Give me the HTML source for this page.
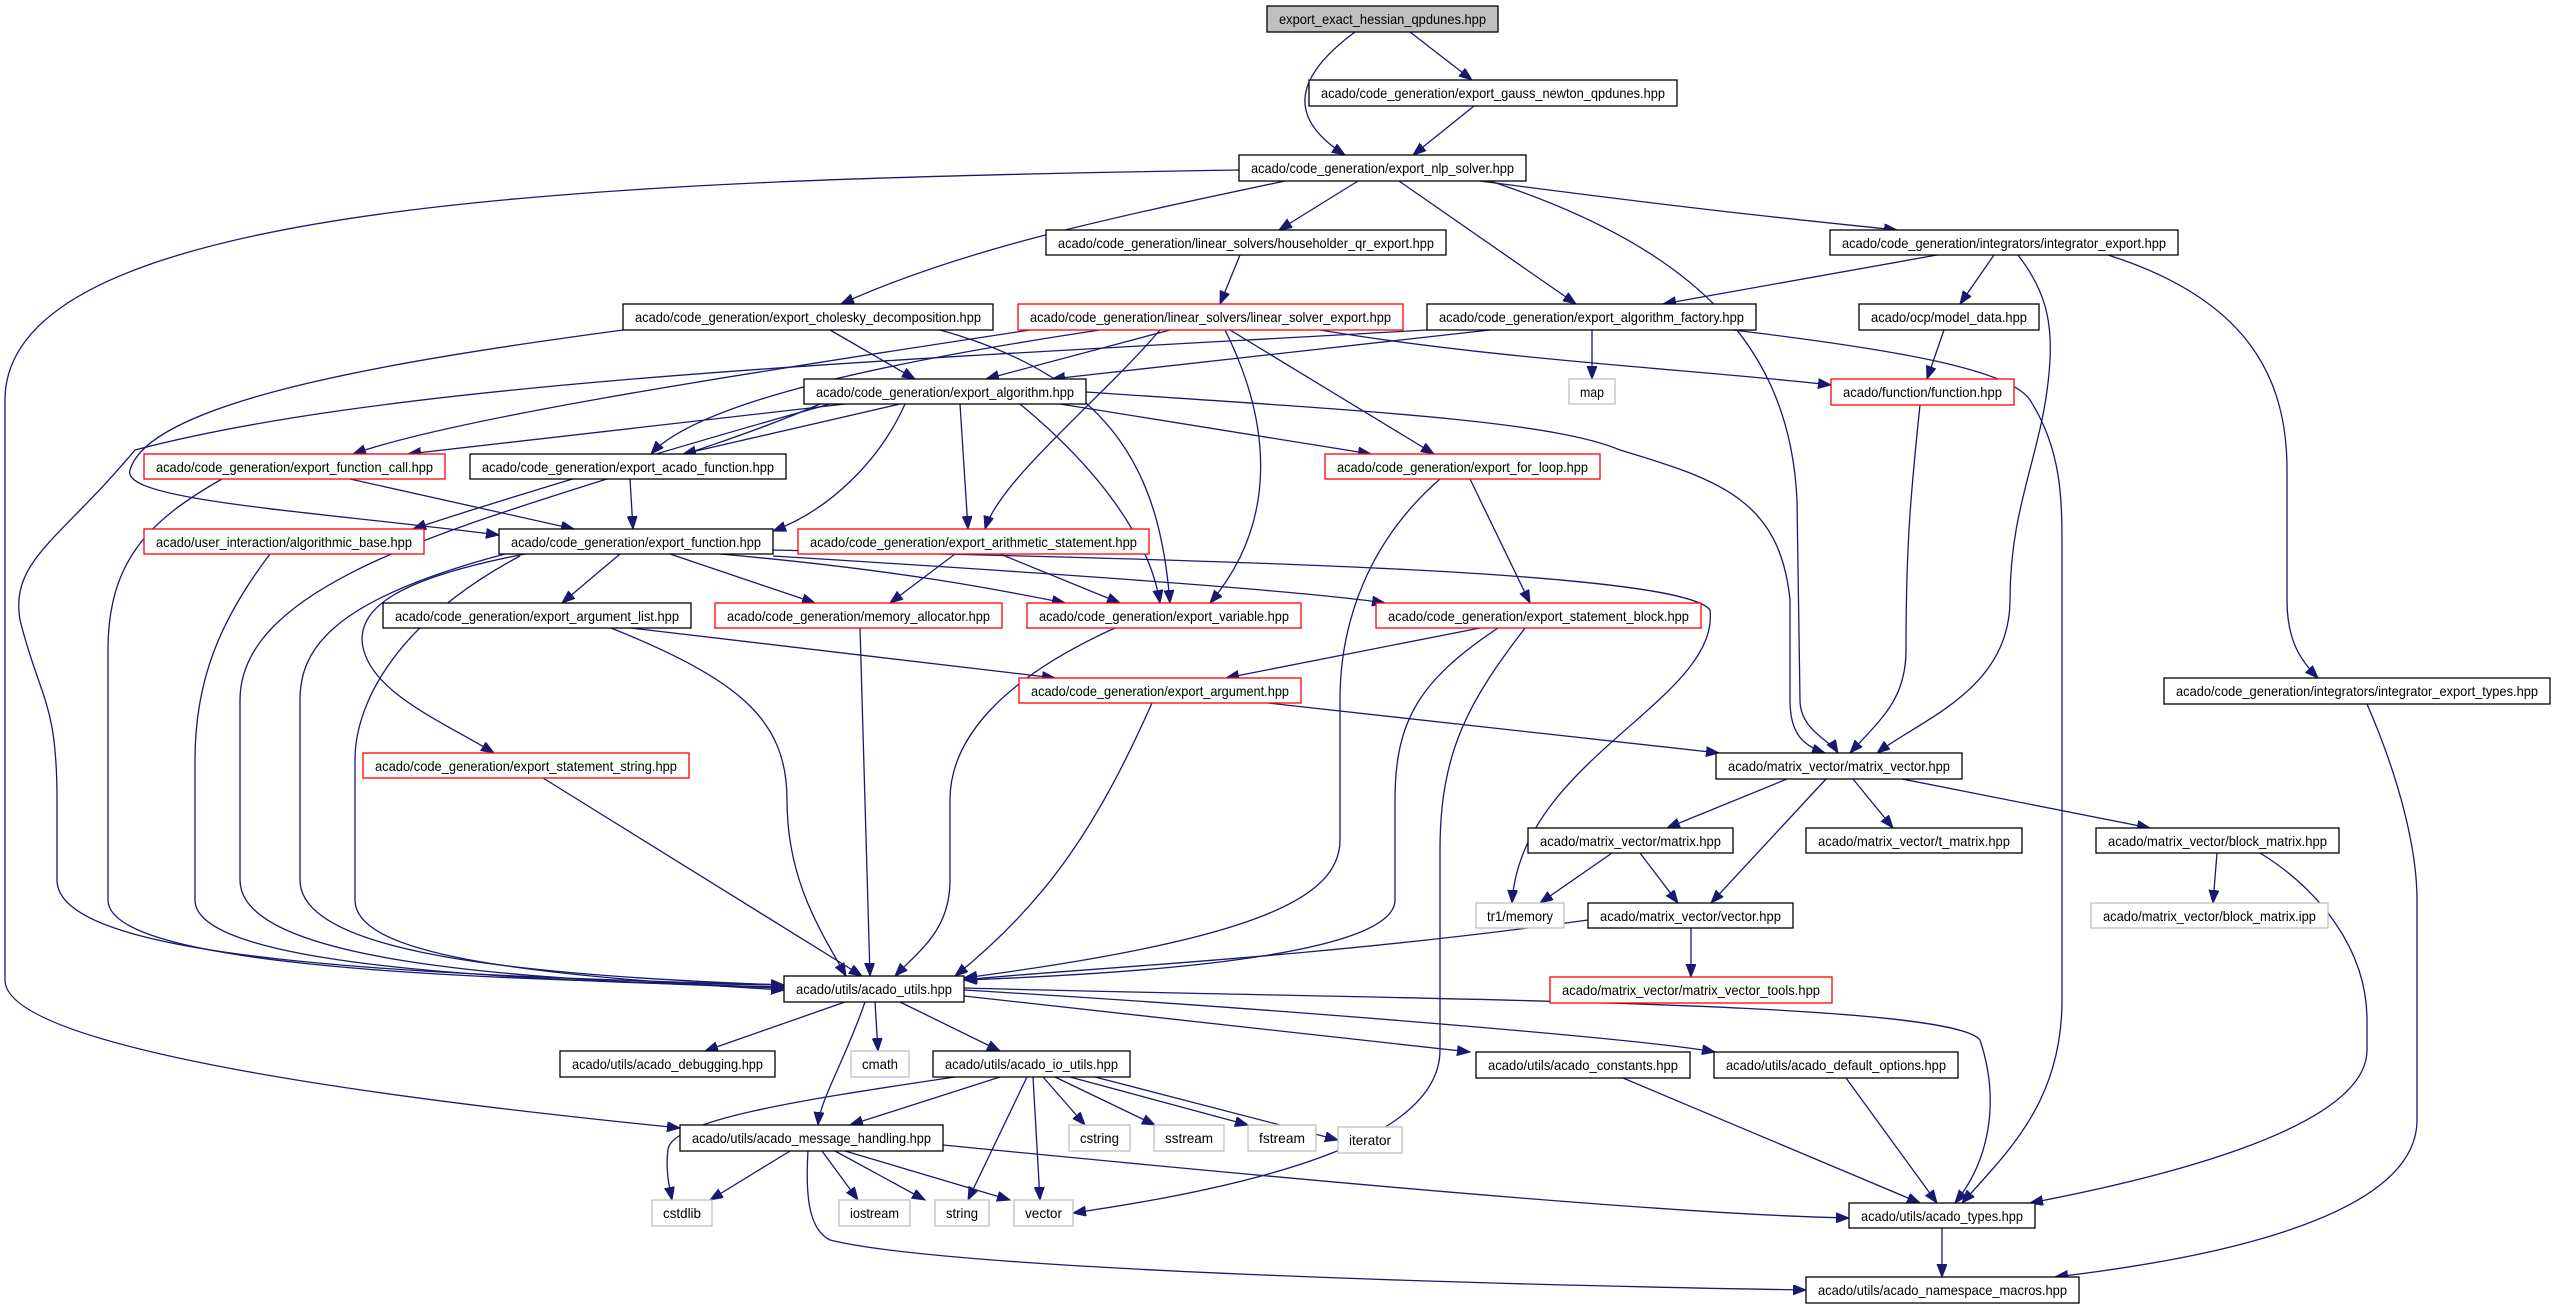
<!DOCTYPE html>
<html><head><meta charset="utf-8"><style>
html,body{margin:0;padding:0;background:#fff;}
svg{display:block;}
text{font-family:"Liberation Sans",sans-serif;font-size:14px;fill:#000;}
.n{fill:#fff;stroke:#000;stroke-width:1.3;}
.r{fill:#fff;stroke:#ff0000;stroke-width:1.3;}
.g{fill:#fff;stroke:#bfbfbf;stroke-width:1.3;}
.e path{fill:none;stroke:#191970;stroke-width:1.3;marker-end:url(#a);}
</style></head><body>
<svg width="2559" height="1307" viewBox="0 0 2559 1307" xmlns="http://www.w3.org/2000/svg">
<defs><marker id="a" markerUnits="userSpaceOnUse" markerWidth="14" markerHeight="12" refX="13" refY="5" orient="auto"><path d="M0,0 L13,5 L0,10 z" fill="#191970" stroke="#191970"/></marker></defs>
<g class="e">
<path d="M1410,32 L1472,80"/>
<path d="M1355,32 C1290,80 1290,120 1345,155"/>
<path d="M1474,106 L1413,155"/>
<path d="M1358,181 L1279,230"/>
<path d="M1285,181 C1100,220 960,250 841,304"/>
<path d="M1399,181 L1576,304"/>
<path d="M1480,181 C1700,210 1800,220 1897,230"/>
<path d="M1490,181 C1700,250 1790,350 1797,500 L1800,700 C1800,730 1830,740 1838,753"/>
<path d="M1239,170 C600,180 5,200 5,400 L5,980 C5,1050 400,1100 680,1128"/>
<path d="M1427,330 C900,360 400,380 135,450 C60,540 10,560 20,620 C40,700 57,700 57,800 L57,880 C57,960 400,975 784,985"/>
<path d="M1240,255 L1220,304"/>
<path d="M830,330 L915,379"/>
<path d="M623,330 C400,360 150,400 130,470 C120,500 300,510 499,535"/>
<path d="M940,330 C1120,380 1160,480 1170,603"/>
<path d="M1170,330 L986,379"/>
<path d="M1030,330 C700,380 450,420 353,454"/>
<path d="M845,404 L408,454"/>
<path d="M1100,330 C900,360 700,400 651,454"/>
<path d="M900,404 L683,454"/>
<path d="M1160,330 C1100,400 1000,480 985,529"/>
<path d="M1225,330 C1270,420 1280,520 1210,603"/>
<path d="M1230,330 L1434,454"/>
<path d="M1320,330 C1500,360 1700,370 1831,385"/>
<path d="M1490,330 L1052,379"/>
<path d="M1592,330 L1592,379"/>
<path d="M1733,330 C1900,350 2010,370 2030,400 C2062,450 2062,500 2062,550 L2062,1000 C2062,1100 2010,1150 1962,1203"/>
<path d="M1937,255 L1663,304"/>
<path d="M1994,255 L1960,304"/>
<path d="M2018,255 C2045,290 2052,320 2050,360 C2045,450 2010,500 2010,600 C2010,690 1920,720 1877,753"/>
<path d="M2108,255 C2250,300 2287,380 2287,470 L2287,600 C2287,640 2300,660 2318,678"/>
<path d="M1944,330 L1927,379"/>
<path d="M1920,405 C1910,500 1906,550 1906,650 C1906,700 1880,720 1850,753"/>
<path d="M830,404 C700,440 500,500 413,529"/>
<path d="M905,404 C880,460 830,510 773,531"/>
<path d="M960,404 L968,529"/>
<path d="M1020,404 C1100,470 1150,540 1160,603"/>
<path d="M1060,404 L1371,454"/>
<path d="M1086,392 C1350,410 1550,420 1620,450 C1720,480 1780,500 1790,600 L1790,700 C1790,730 1800,745 1825,753"/>
<path d="M820,404 C600,500 240,550 240,700 L240,880 C240,960 500,980 784,988"/>
<path d="M350,479 L574,529"/>
<path d="M222,479 C150,520 108,560 108,650 L108,900 C108,960 400,980 784,985"/>
<path d="M630,479 L633,529"/>
<path d="M270,554 C220,620 195,680 195,760 L195,900 C195,960 450,980 784,987"/>
<path d="M620,554 L562,603"/>
<path d="M670,554 L815,603"/>
<path d="M720,554 C900,570 1000,590 1065,603"/>
<path d="M773,556 C1000,570 1300,590 1385,603"/>
<path d="M773,550 C1200,560 1680,570 1710,610 C1720,700 1520,760 1512,903"/>
<path d="M525,554 C390,580 362,610 362,640 C365,690 440,720 494,753"/>
<path d="M505,554 C330,600 300,650 300,700 L300,880 C300,950 500,975 784,985"/>
<path d="M520,556 C400,620 355,700 355,760 L355,900 C355,955 520,975 784,990"/>
<path d="M955,554 L890,603"/>
<path d="M1000,554 L1120,603"/>
<path d="M631,628 L1055,678"/>
<path d="M611,628 C740,680 787,720 787,800 C787,880 820,930 846,976"/>
<path d="M860,628 L870,976"/>
<path d="M1115,628 C1000,680 950,740 950,800 L950,880 C950,930 920,950 895,976"/>
<path d="M1480,628 L1226,678"/>
<path d="M1498,628 C1420,680 1395,720 1395,800 L1395,900 C1395,960 1100,975 964,980"/>
<path d="M1525,628 C1470,700 1440,750 1440,850 L1440,1050 C1440,1130 1300,1180 1073,1213"/>
<path d="M1470,479 L1530,603"/>
<path d="M1440,479 C1370,540 1340,620 1340,700 L1340,840 C1340,900 1250,940 964,978"/>
<path d="M1268,703 L1719,753"/>
<path d="M1152,703 C1100,820 1050,900 955,976"/>
<path d="M543,778 L862,976"/>
<path d="M1787,779 L1667,828"/>
<path d="M1853,779 L1893,828"/>
<path d="M1902,779 L2150,828"/>
<path d="M1826,779 L1711,903"/>
<path d="M1612,853 L1540,903"/>
<path d="M1640,853 L1678,903"/>
<path d="M1588,920 C1300,960 1050,970 964,980"/>
<path d="M1691,928 L1691,977"/>
<path d="M2217,853 L2213,903"/>
<path d="M2260,853 C2320,890 2367,950 2367,1020 L2367,1050 C2367,1130 2150,1180 2030,1203"/>
<path d="M2367,704 C2400,780 2417,850 2417,900 L2417,1120 C2417,1220 2200,1260 2055,1277"/>
<path d="M845,1002 L705,1051"/>
<path d="M875,1002 L878,1051"/>
<path d="M900,1002 L1000,1051"/>
<path d="M865,1002 C845,1060 820,1100 818,1125"/>
<path d="M964,996 L1470,1052"/>
<path d="M964,990 C1300,1010 1650,1040 1715,1052"/>
<path d="M964,988 C1400,1000 1950,1000 1980,1040 C2000,1100 1990,1160 1955,1203"/>
<path d="M955,1077 C800,1100 670,1120 668,1150 C665,1170 670,1190 672,1200"/>
<path d="M1000,1077 L850,1125"/>
<path d="M1027,1077 L968,1200"/>
<path d="M1033,1077 L1040,1200"/>
<path d="M1043,1077 L1085,1125"/>
<path d="M1055,1077 L1155,1125"/>
<path d="M1070,1077 L1248,1125"/>
<path d="M1095,1077 L1338,1140"/>
<path d="M790,1151 L710,1200"/>
<path d="M822,1151 L858,1200"/>
<path d="M835,1151 L925,1200"/>
<path d="M845,1151 L1010,1200"/>
<path d="M943,1145 C1400,1190 1700,1215 1849,1218"/>
<path d="M808,1151 C805,1200 810,1230 830,1240 C950,1270 1500,1285 1806,1290"/>
<path d="M1623,1078 L1920,1203"/>
<path d="M1846,1078 L1937,1203"/>
<path d="M1942,1228 L1942,1277"/>
</g>
<g>
<rect x="1267" y="6" width="231" height="26" fill="#bfbfbf" stroke="#000" stroke-width="1.3"/><text x="1382.5" y="24" text-anchor="middle" textLength="207" lengthAdjust="spacingAndGlyphs">export_exact_hessian_qpdunes.hpp</text>
<rect class="n" x="1309" y="80" width="368" height="26"/><text x="1493" y="98" text-anchor="middle" textLength="344" lengthAdjust="spacingAndGlyphs">acado/code_generation/export_gauss_newton_qpdunes.hpp</text>
<rect class="n" x="1239" y="155" width="287" height="26"/><text x="1382.5" y="173" text-anchor="middle" textLength="263" lengthAdjust="spacingAndGlyphs">acado/code_generation/export_nlp_solver.hpp</text>
<rect class="n" x="1046" y="230" width="400" height="25"/><text x="1246" y="248" text-anchor="middle" textLength="376" lengthAdjust="spacingAndGlyphs">acado/code_generation/linear_solvers/householder_qr_export.hpp</text>
<rect class="n" x="1830" y="230" width="348" height="25"/><text x="2004" y="248" text-anchor="middle" textLength="324" lengthAdjust="spacingAndGlyphs">acado/code_generation/integrators/integrator_export.hpp</text>
<rect class="n" x="623" y="304" width="370" height="26"/><text x="808" y="322" text-anchor="middle" textLength="346" lengthAdjust="spacingAndGlyphs">acado/code_generation/export_cholesky_decomposition.hpp</text>
<rect class="r" x="1018" y="304" width="385" height="26"/><text x="1210.5" y="322" text-anchor="middle" textLength="361" lengthAdjust="spacingAndGlyphs">acado/code_generation/linear_solvers/linear_solver_export.hpp</text>
<rect class="n" x="1427" y="304" width="329" height="26"/><text x="1591.5" y="322" text-anchor="middle" textLength="305" lengthAdjust="spacingAndGlyphs">acado/code_generation/export_algorithm_factory.hpp</text>
<rect class="n" x="1859" y="304" width="180" height="26"/><text x="1949" y="322" text-anchor="middle" textLength="156" lengthAdjust="spacingAndGlyphs">acado/ocp/model_data.hpp</text>
<rect class="n" x="804" y="379" width="282" height="25"/><text x="945" y="397" text-anchor="middle" textLength="258" lengthAdjust="spacingAndGlyphs">acado/code_generation/export_algorithm.hpp</text>
<rect class="g" x="1569" y="379" width="46" height="25"/><text x="1592" y="397" text-anchor="middle" textLength="24" lengthAdjust="spacingAndGlyphs">map</text>
<rect class="r" x="1831" y="379" width="183" height="26"/><text x="1922.5" y="397" text-anchor="middle" textLength="159" lengthAdjust="spacingAndGlyphs">acado/function/function.hpp</text>
<rect class="r" x="144" y="454" width="301" height="25"/><text x="294.5" y="472" text-anchor="middle" textLength="277" lengthAdjust="spacingAndGlyphs">acado/code_generation/export_function_call.hpp</text>
<rect class="n" x="470" y="454" width="316" height="25"/><text x="628" y="472" text-anchor="middle" textLength="292" lengthAdjust="spacingAndGlyphs">acado/code_generation/export_acado_function.hpp</text>
<rect class="r" x="1325" y="454" width="275" height="25"/><text x="1462.5" y="472" text-anchor="middle" textLength="251" lengthAdjust="spacingAndGlyphs">acado/code_generation/export_for_loop.hpp</text>
<rect class="r" x="144" y="529" width="280" height="25"/><text x="284" y="547" text-anchor="middle" textLength="256" lengthAdjust="spacingAndGlyphs">acado/user_interaction/algorithmic_base.hpp</text>
<rect class="n" x="499" y="529" width="274" height="25"/><text x="636" y="547" text-anchor="middle" textLength="250" lengthAdjust="spacingAndGlyphs">acado/code_generation/export_function.hpp</text>
<rect class="r" x="798" y="529" width="351" height="25"/><text x="973.5" y="547" text-anchor="middle" textLength="327" lengthAdjust="spacingAndGlyphs">acado/code_generation/export_arithmetic_statement.hpp</text>
<rect class="n" x="383" y="603" width="308" height="25"/><text x="537" y="621" text-anchor="middle" textLength="284" lengthAdjust="spacingAndGlyphs">acado/code_generation/export_argument_list.hpp</text>
<rect class="r" x="715" y="603" width="287" height="25"/><text x="858.5" y="621" text-anchor="middle" textLength="263" lengthAdjust="spacingAndGlyphs">acado/code_generation/memory_allocator.hpp</text>
<rect class="r" x="1027" y="603" width="274" height="25"/><text x="1164" y="621" text-anchor="middle" textLength="250" lengthAdjust="spacingAndGlyphs">acado/code_generation/export_variable.hpp</text>
<rect class="r" x="1376" y="603" width="325" height="25"/><text x="1538.5" y="621" text-anchor="middle" textLength="301" lengthAdjust="spacingAndGlyphs">acado/code_generation/export_statement_block.hpp</text>
<rect class="r" x="1019" y="678" width="282" height="25"/><text x="1160" y="696" text-anchor="middle" textLength="258" lengthAdjust="spacingAndGlyphs">acado/code_generation/export_argument.hpp</text>
<rect class="n" x="2164" y="678" width="386" height="26"/><text x="2357" y="696" text-anchor="middle" textLength="362" lengthAdjust="spacingAndGlyphs">acado/code_generation/integrators/integrator_export_types.hpp</text>
<rect class="r" x="363" y="753" width="326" height="25"/><text x="526" y="771" text-anchor="middle" textLength="302" lengthAdjust="spacingAndGlyphs">acado/code_generation/export_statement_string.hpp</text>
<rect class="n" x="1716" y="753" width="246" height="26"/><text x="1839" y="771" text-anchor="middle" textLength="222" lengthAdjust="spacingAndGlyphs">acado/matrix_vector/matrix_vector.hpp</text>
<rect class="n" x="1528" y="828" width="205" height="25"/><text x="1630.5" y="846" text-anchor="middle" textLength="181" lengthAdjust="spacingAndGlyphs">acado/matrix_vector/matrix.hpp</text>
<rect class="n" x="1806" y="828" width="216" height="25"/><text x="1914" y="846" text-anchor="middle" textLength="192" lengthAdjust="spacingAndGlyphs">acado/matrix_vector/t_matrix.hpp</text>
<rect class="n" x="2096" y="828" width="243" height="25"/><text x="2217.5" y="846" text-anchor="middle" textLength="219" lengthAdjust="spacingAndGlyphs">acado/matrix_vector/block_matrix.hpp</text>
<rect class="g" x="1476" y="903" width="88" height="25"/><text x="1520" y="921" text-anchor="middle" textLength="66" lengthAdjust="spacingAndGlyphs">tr1/memory</text>
<rect class="n" x="1588" y="903" width="205" height="25"/><text x="1690.5" y="921" text-anchor="middle" textLength="181" lengthAdjust="spacingAndGlyphs">acado/matrix_vector/vector.hpp</text>
<rect class="g" x="2091" y="903" width="237" height="25"/><text x="2209.5" y="921" text-anchor="middle" textLength="213" lengthAdjust="spacingAndGlyphs">acado/matrix_vector/block_matrix.ipp</text>
<rect class="r" x="1550" y="977" width="282" height="26"/><text x="1691" y="995" text-anchor="middle" textLength="258" lengthAdjust="spacingAndGlyphs">acado/matrix_vector/matrix_vector_tools.hpp</text>
<rect class="n" x="784" y="976" width="180" height="26"/><text x="874" y="994" text-anchor="middle" textLength="156" lengthAdjust="spacingAndGlyphs">acado/utils/acado_utils.hpp</text>
<rect class="n" x="560" y="1051" width="215" height="26"/><text x="667.5" y="1069" text-anchor="middle" textLength="191" lengthAdjust="spacingAndGlyphs">acado/utils/acado_debugging.hpp</text>
<rect class="g" x="851" y="1051" width="58" height="26"/><text x="880" y="1069" text-anchor="middle" textLength="36" lengthAdjust="spacingAndGlyphs">cmath</text>
<rect class="n" x="933" y="1051" width="197" height="26"/><text x="1031.5" y="1069" text-anchor="middle" textLength="173" lengthAdjust="spacingAndGlyphs">acado/utils/acado_io_utils.hpp</text>
<rect class="n" x="1476" y="1052" width="214" height="26"/><text x="1583" y="1070" text-anchor="middle" textLength="190" lengthAdjust="spacingAndGlyphs">acado/utils/acado_constants.hpp</text>
<rect class="n" x="1714" y="1052" width="244" height="26"/><text x="1836" y="1070" text-anchor="middle" textLength="220" lengthAdjust="spacingAndGlyphs">acado/utils/acado_default_options.hpp</text>
<rect class="n" x="680" y="1125" width="263" height="26"/><text x="811.5" y="1143" text-anchor="middle" textLength="239" lengthAdjust="spacingAndGlyphs">acado/utils/acado_message_handling.hpp</text>
<rect class="g" x="1069" y="1125" width="61" height="26"/><text x="1099.5" y="1143" text-anchor="middle" textLength="39" lengthAdjust="spacingAndGlyphs">cstring</text>
<rect class="g" x="1154" y="1125" width="70" height="26"/><text x="1189" y="1143" text-anchor="middle" textLength="48" lengthAdjust="spacingAndGlyphs">sstream</text>
<rect class="g" x="1248" y="1125" width="68" height="26"/><text x="1282" y="1143" text-anchor="middle" textLength="46" lengthAdjust="spacingAndGlyphs">fstream</text>
<rect class="g" x="1338" y="1127" width="64" height="26"/><text x="1370" y="1145" text-anchor="middle" textLength="42" lengthAdjust="spacingAndGlyphs">iterator</text>
<rect class="g" x="652" y="1200" width="60" height="26"/><text x="682" y="1218" text-anchor="middle" textLength="38" lengthAdjust="spacingAndGlyphs">cstdlib</text>
<rect class="g" x="839" y="1200" width="71" height="26"/><text x="874.5" y="1218" text-anchor="middle" textLength="49" lengthAdjust="spacingAndGlyphs">iostream</text>
<rect class="g" x="935" y="1200" width="54" height="26"/><text x="962" y="1218" text-anchor="middle" textLength="32" lengthAdjust="spacingAndGlyphs">string</text>
<rect class="g" x="1014" y="1200" width="59" height="26"/><text x="1043.5" y="1218" text-anchor="middle" textLength="37" lengthAdjust="spacingAndGlyphs">vector</text>
<rect class="n" x="1849" y="1203" width="186" height="25"/><text x="1942" y="1221" text-anchor="middle" textLength="162" lengthAdjust="spacingAndGlyphs">acado/utils/acado_types.hpp</text>
<rect class="n" x="1806" y="1277" width="273" height="26"/><text x="1942.5" y="1295" text-anchor="middle" textLength="249" lengthAdjust="spacingAndGlyphs">acado/utils/acado_namespace_macros.hpp</text>
</g>
</svg>
</body></html>
